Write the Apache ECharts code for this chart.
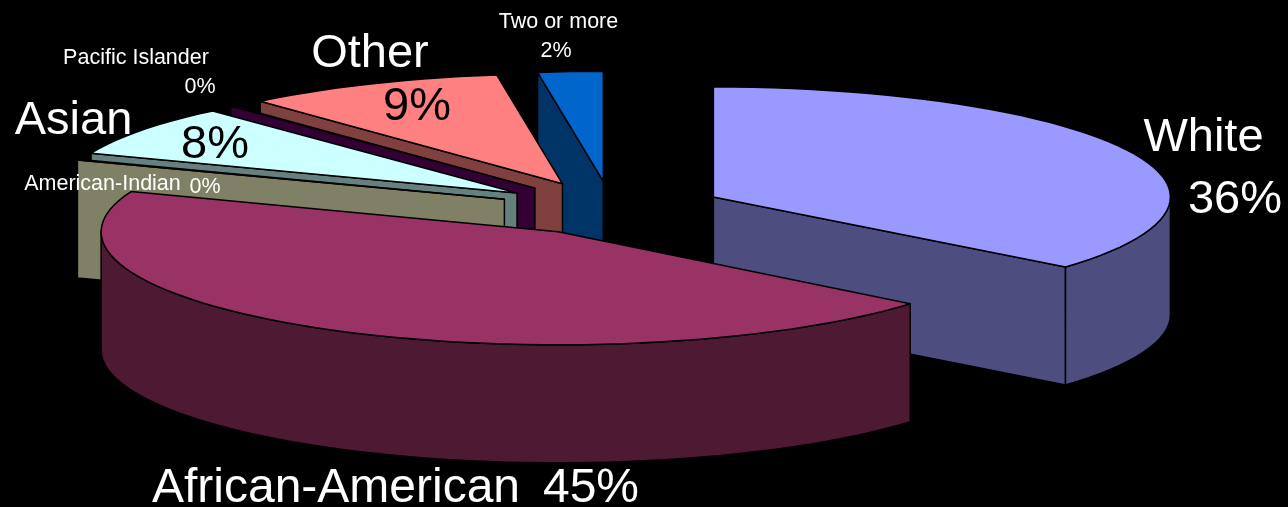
<!DOCTYPE html>
<html>
<head>
<meta charset="utf-8">
<style>html,body{margin:0;padding:0;background:#000}#chart{width:1288px;height:507px}</style>
<script src="https://cdn.jsdelivr.net/npm/echarts@6/dist/echarts.min.js"></script>
</head>
<body>
<div id="chart"></div>
<script>
// Data, clockwise from 12 o'clock
var categories = ['White', 'African-American', 'American-Indian', 'Asian', 'Pacific Islander', 'Other', 'Two or more'];
var values = [36, 44.8, 0.1, 7.5, 0.1, 9.2, 2.3];

// Styling and layout
var topColors = ['#9999FF', '#993366', '#FFFFCC', '#CCFFFF', '#660066', '#FF8080', '#0066CC'];
var wallColors = ['#4D4D80', '#4D1933', '#808066', '#668080', '#330033', '#804040', '#003366'];
var explode = [0.2476, 0.219, 0.2476, 0.2476, 0.2476, 0.2476, 0.2476];
var shift = [[0, 0], [-2.5, 2.5], [-1, 0.5], [-1, 0], [-1, 0], [-1, 0], [0.5, 0]];
var radiiY = [110, 113, 110, 110, 110, 110, 110];
var drawOrder = [6, 5, 4, 3, 2, 0, 1];
var pie = { cx: 611, cy: 208.5, rx: 457, depth: 118 };
var nameStyle = [
  { x: 1203.5, y: 138, size: 47 }, { x: 336, y: 489, size: 48 }, { x: 102.5, y: 184, size: 21.5 },
  { x: 73.5, y: 121, size: 47 }, { x: 136, y: 58, size: 21.5 }, { x: 370, y: 54, size: 47 }, { x: 558.5, y: 22, size: 21.5 }
];
var pctStyle = [
  { x: 1235, y: 200, size: 47, color: '#fff' }, { x: 591, y: 489, size: 48, color: '#fff' }, { x: 205, y: 187, size: 21.5, color: '#fff' },
  { x: 215, y: 145, size: 47, color: '#000' }, { x: 200, y: 87, size: 21.5, color: '#fff' }, { x: 417, y: 107, size: 47, color: '#000' }, { x: 556, y: 51, size: 21.5, color: '#fff' }
];

var total = values.reduce(function (a, b) { return a + b; }, 0);
var cumulative = values.reduce(function (acc, v) { acc.push(acc[acc.length - 1] + v); return acc; }, [0]);
function toAngle(v) { return echarts.number.linearMap(v, [0, total], [0, 360], true); }

function rim(o, ry, deg) {
  var t = deg * Math.PI / 180;
  return [o[0] + pie.rx * Math.sin(t), o[1] - ry * Math.cos(t)];
}
function arcPoints(o, ry, a, b) {
  var pts = [], n = Math.max(1, Math.ceil((b - a) / 2.5));
  for (var i = 0; i <= n; i++) pts.push(rim(o, ry, a + (b - a) * i / n));
  return pts;
}
function down(p) { return [p[0], p[1] + pie.depth]; }
function wall(top, fill) {
  var bottom = top.map(down).reverse();
  return { type: 'polygon', shape: { points: top.concat(bottom) },
           style: { fill: fill, stroke: '#000', lineWidth: 1.5, lineJoin: 'round' } };
}
function text(str, s, color) {
  return { type: 'text', z2: 100, style: { text: str, x: s.x, y: s.y, fill: color, align: 'center', verticalAlign: 'middle',
           font: s.size + 'px "Liberation Sans", Arial, sans-serif' } };
}

function renderItem(params, api) {
  var i = api.value(0);
  var a = toAngle(cumulative[i]), b = toAngle(cumulative[i + 1]), t = (a + b) / 2 * Math.PI / 180;
  var ry = radiiY[i];
  var apex = [pie.cx + shift[i][0] + explode[i] * pie.rx * Math.sin(t),
              pie.cy + shift[i][1] - explode[i] * 110 * Math.cos(t)];
  var children = [];
  if (a > 180 && a < 360) children.push(wall([apex, rim(apex, ry, a)], wallColors[i]));
  if (b > 0 && b < 180) children.push(wall([apex, rim(apex, ry, b)], wallColors[i]));
  var fa = Math.max(a, 90), fb = Math.min(b, 270);
  if (fa < fb) children.push(wall(arcPoints(apex, ry, fa, fb), wallColors[i]));
  children.push({ type: 'polygon', shape: { points: [apex].concat(arcPoints(apex, ry, a, b)) },
    style: { fill: topColors[i], stroke: '#000', lineWidth: 1.5, lineJoin: 'round' } });
  return { type: 'group', children: children };
}

function renderLabels(params, api) {
  var i = api.value(0);
  return { type: 'group', children: [
    text(categories[i], nameStyle[i], '#fff'),
    text(Math.round(values[i]) + '%', pctStyle[i], pctStyle[i].color)
  ] };
}

var chart = echarts.init(document.getElementById('chart'), null, { renderer: 'canvas' });
chart.setOption({
  backgroundColor: '#000',
  animation: false,
  tooltip: { show: false },
  series: [
    { type: 'custom', coordinateSystem: 'none', silent: true, renderItem: renderItem, z: 2,
      data: drawOrder.map(function (i) { return { name: categories[i], value: [i, values[i]] }; }) },
    { type: 'custom', coordinateSystem: 'none', silent: true, renderItem: renderLabels, z: 3,
      data: drawOrder.map(function (i) { return { name: categories[i], value: [i, values[i]] }; }) }
  ]
});
</script>
</body>
</html>
